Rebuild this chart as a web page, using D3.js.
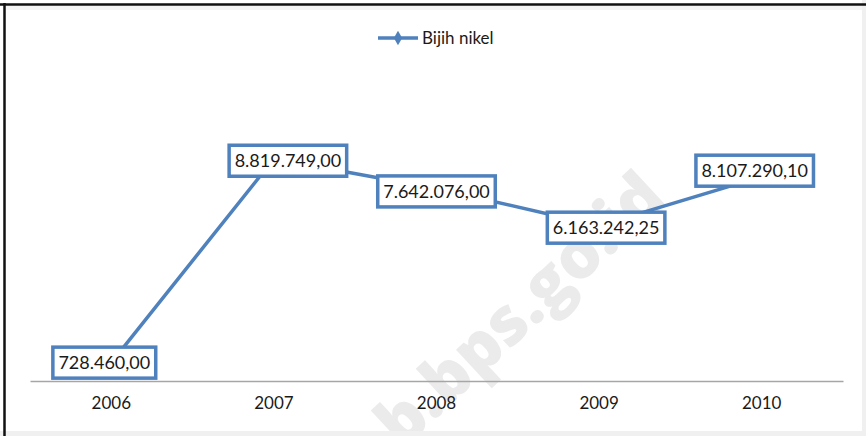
<!DOCTYPE html>
<html>
<head>
<meta charset="utf-8">
<script src="https://cdn.jsdelivr.net/npm/d3@7"></script>
<style>
  html, body { margin: 0; padding: 0; background: #ffffff; }
  svg { display: block; }
</style>
</head>
<body>
<svg id="chart" width="866" height="436"></svg>
<script>
// ---- data ----
const years = ["2006", "2007", "2008", "2009", "2010"];
const bijihNikel = [728460.00, 8819749.00, 7642076.00, 6163242.25, 8107290.10];
const seriesName = "Bijih nikel";
const watermarkText = "b.bps.go.id";

// ---- layout (label nudges as placed in the original chart) ----
const labelDx = [-7, 14, 0, 7, -7];
const labelDy = [0, 2, 3, 2, -6];
const W = 866, H = 436;
const plot = { left: 30, right: 843, top: 129, bottom: 381 };
const blue = "#4f81bd";
const font = "Lato, 'Open Sans', sans-serif";

const svg = d3.select("#chart");

// background + frames
svg.append("rect").attr("x", 0).attr("y", 0).attr("width", W).attr("height", H).attr("fill", "#ffffff");
svg.append("rect").attr("x", 862).attr("y", 0).attr("width", 4).attr("height", H).attr("fill", "#f0f0f0");
svg.append("rect").attr("x", 0).attr("y", 431).attr("width", W).attr("height", 5).attr("fill", "#f0f0f0");
svg.append("rect").attr("x", 6).attr("y", 6).attr("width", 856).attr("height", 4).attr("fill", "#f4f4f4");
svg.append("line").attr("x1", 0).attr("x2", W).attr("y1", 4.5).attr("y2", 4.5)
  .attr("stroke", "#111").attr("stroke-width", 2.5);
svg.append("line").attr("x1", 4.5).attr("x2", 4.5).attr("y1", 3).attr("y2", H)
  .attr("stroke", "#111").attr("stroke-width", 2.5);

// clip for watermark
svg.append("clipPath").attr("id", "area").append("rect")
  .attr("x", 7).attr("y", 10).attr("width", 855).attr("height", 421);

// watermark
svg.append("g").attr("clip-path", "url(#area)")
  .append("text")
  .attr("transform", "translate(535,326) rotate(-43)")
  .attr("text-anchor", "middle")
  .attr("font-family", "'Open Sans', Lato, sans-serif")
  .attr("font-weight", 800)
  .attr("font-size", 66)
  .attr("fill", "#ebebeb")
  .text(watermarkText);

// scales
const x = d3.scaleBand().domain(years).range([plot.left, plot.right]).paddingInner(0).paddingOuter(0);
const y = d3.scaleLinear().domain([0, 10000000]).range([plot.bottom, plot.top]);
const cx = d => x(d) + x.bandwidth() / 2;

// x axis
const xAxis = d3.axisBottom(x).tickSize(0).tickPadding(16);
const gx = svg.append("g").attr("transform", `translate(0,${plot.bottom})`).call(xAxis);
gx.select(".domain").attr("stroke", "#a6a6a6").attr("stroke-width", 1.5);
gx.selectAll("text").attr("font-family", font).attr("font-size", 17).attr("fill", "#1a1a1a");

// line
const pts = years.map((yr, i) => ({ yr, v: bijihNikel[i], i }));
const line = d3.line().x(d => cx(d.yr)).y(d => y(d.v));
svg.append("path").datum(pts).attr("d", line)
  .attr("fill", "none").attr("stroke", blue).attr("stroke-width", 3.5)
  .attr("stroke-linejoin", "round");

// data labels
const idLocale = d3.formatLocale({ decimal: ",", thousands: ".", grouping: [3], currency: ["", ""] });
const fmt = idLocale.format(",.2f");
const lab = svg.append("g").selectAll("g").data(pts).join("g")
  .attr("transform", d => `translate(${cx(d.yr) + labelDx[d.i]},${y(d.v) + labelDy[d.i]})`);
lab.each(function(d) {
  const g = d3.select(this);
  const rect = g.append("rect");
  const t = g.append("text")
    .attr("text-anchor", "middle").attr("dy", "0.35em")
    .attr("font-family", font).attr("font-size", 18).attr("fill", "#1a1a1a")
    .text(fmt(d.v));
  const bb = t.node().getBBox();
  const padX = 5.5, h = 31;
  rect.attr("x", -bb.width / 2 - padX).attr("y", -h / 2)
    .attr("width", bb.width + 2 * padX).attr("height", h)
    .attr("fill", "#ffffff").attr("stroke", blue).attr("stroke-width", 3.5);
});

// legend
const lg = svg.append("g").attr("transform", "translate(378,38)");
lg.append("line").attr("x1", 0).attr("x2", 40).attr("y1", 0).attr("y2", 0)
  .attr("stroke", blue).attr("stroke-width", 3.5);
lg.append("path").attr("d", d3.symbol(d3.symbolDiamond, 60)())
  .attr("transform", "translate(20,0)").attr("fill", blue);
lg.append("text").attr("x", 44).attr("dy", "0.35em")
  .attr("font-family", font).attr("font-size", 17).attr("fill", "#1a1a1a")
  .text(seriesName);
</script>
</body>
</html>
